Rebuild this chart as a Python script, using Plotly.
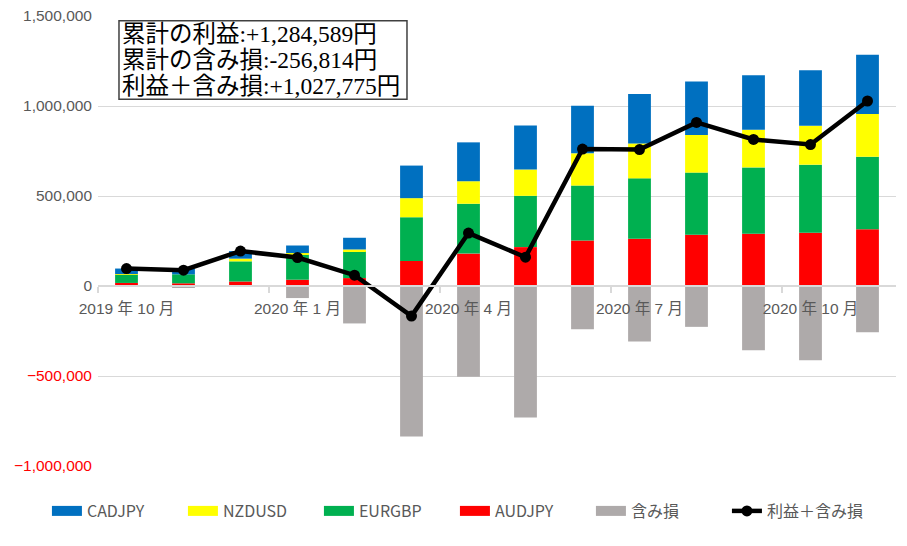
import plotly.graph_objects as go

# ---- data ----
months = ["2019-10", "2019-11", "2019-12", "2020-01", "2020-02", "2020-03", "2020-04",
          "2020-05", "2020-06", "2020-07", "2020-08", "2020-09", "2020-10", "2020-11"]
audjpy = [17000, 15000, 25000, 35000, 44000, 139000, 180000, 216000, 253000, 263000, 285000, 290000, 296000, 315800]
eurgbp = [46000, 50000, 112000, 139000, 150000, 243000, 277000, 285000, 305000, 335000, 345000, 369000, 378000, 402700]
nzdusd = [3000, -3000, 15000, 9000, 9000, 106000, 125000, 146000, 179000, 194000, 209000, 209000, 216000, 236500]
cadjpy = [31000, 31000, 42000, 42000, 65000, 181000, 216000, 244000, 264000, 274000, 297000, 303000, 309000, 329589]
unrealized = [0, -5000, 0, -67000, -208000, -836000, -504000, -731000, -240000, -308000, -227000, -357000, -413000, -256814]
total_line = [a + b + c + d + e for a, b, c, d, e in zip(audjpy, eurgbp, nzdusd, cadjpy, unrealized)]

xlabel_idx = [0, 3, 6, 9, 12]
xlabel_text = ["2019 年 10 月", "2020 年 1 月", "2020 年 4 月", "2020 年 7 月", "2020 年 10 月"]
ytick_vals = [1500000, 1000000, 500000, 0, -500000, -1000000]
ytick_text = ["1,500,000", "1,000,000", "500,000", "0",
              '<span style="color:#FF0000">−500,000</span>',
              '<span style="color:#FF0000">−1,000,000</span>']
summary_lines = ["累計の利益:+1,284,589円", "累計の含み損:-256,814円", "利益＋含み損:+1,027,775円"]

x = list(range(len(months)))

series = [
    ("AUDJPY", audjpy, "#FF0000", 4),
    ("EURGBP", eurgbp, "#00B050", 3),
    ("NZDUSD", nzdusd, "#FFFF00", 2),
    ("CADJPY", cadjpy, "#0070C0", 1),
    ("含み損", unrealized, "#AEAAAA", 5),
]

fig = go.Figure()
for name, vals, color, rank in series:
    fig.add_trace(go.Bar(x=x, y=vals, name=name, marker=dict(color=color, line=dict(width=0)),
                         showlegend=False, legendgroup=name))
    # legend proxy with a wide key
    fig.add_trace(go.Scatter(x=[None], y=[None], mode="lines", name=name,
                             line=dict(color=color, width=12), legendgroup=name, legendrank=rank))

fig.add_trace(go.Scatter(x=x, y=total_line, name="利益＋含み損", mode="lines+markers",
                         line=dict(color="black", width=4.5), marker=dict(color="black", size=11),
                         legendrank=6))

axis_font = dict(family="Liberation Sans, Arial, Noto Sans CJK JP", size=15.5, color="#595959")

# summary box (three lines with tight line spacing, inside a framed box)
box = dict(x0=0.0263, x1=0.3872, y0=0.8149, y1=0.9896)
line_y = [0.9600, 0.9015, 0.8440]
annotations = [dict(xref="paper", yref="paper", x=0.0280, y=yy, xanchor="left", yanchor="middle",
                    text=t, showarrow=False,
                    font=dict(family="Liberation Serif, Noto Sans CJK JP", size=23.5, color="black"))
               for t, yy in zip(summary_lines, line_y)]

fig.update_layout(
    width=907, height=546,
    margin=dict(l=98, r=11, t=16, b=80, autoexpand=False),
    paper_bgcolor="white", plot_bgcolor="white",
    barmode="relative", bargap=0.6,
    xaxis=dict(range=[-0.5, 13.5], tickmode="array", tickvals=xlabel_idx, ticktext=xlabel_text,
               ticks="", showgrid=False, zeroline=False, showline=True, linecolor="#D9D9D9",
               linewidth=1.5, anchor="free", position=0.4, layer="above traces",
               tickfont=axis_font, ticklabelstandoff=9,
               minor=dict(tickmode="array", tickvals=[-0.5, 2.5, 5.5, 8.5, 11.5], ticks="outside",
                          ticklen=6, tickcolor="#D9D9D9", tickwidth=1.5, showgrid=False)),
    yaxis=dict(range=[-1000000, 1500000], tickmode="array", tickvals=ytick_vals, ticktext=ytick_text,
               showgrid=True, gridcolor="#D9D9D9", gridwidth=1, zeroline=False, showline=False,
               tickfont=axis_font, ticks="", ticklabelstandoff=5),
    legend=dict(orientation="h", xref="paper", yref="paper", x=-0.0640, y=-0.1,
                xanchor="left", yanchor="middle", entrywidthmode="pixels", entrywidth=91,
                font=dict(family="Noto Sans CJK JP", size=16, color="#595959"),
                bgcolor="rgba(0,0,0,0)"),
    showlegend=True,
    shapes=[dict(type="rect", xref="paper", yref="paper", layer="above",
                 line=dict(color="#404040", width=1.5), fillcolor="white", **box)],
    annotations=annotations,
)

fig.write_html("out.html", config={"displayModeBar": False},
               post_script="document.body.style.margin='0px';document.body.style.overflow='hidden';")
